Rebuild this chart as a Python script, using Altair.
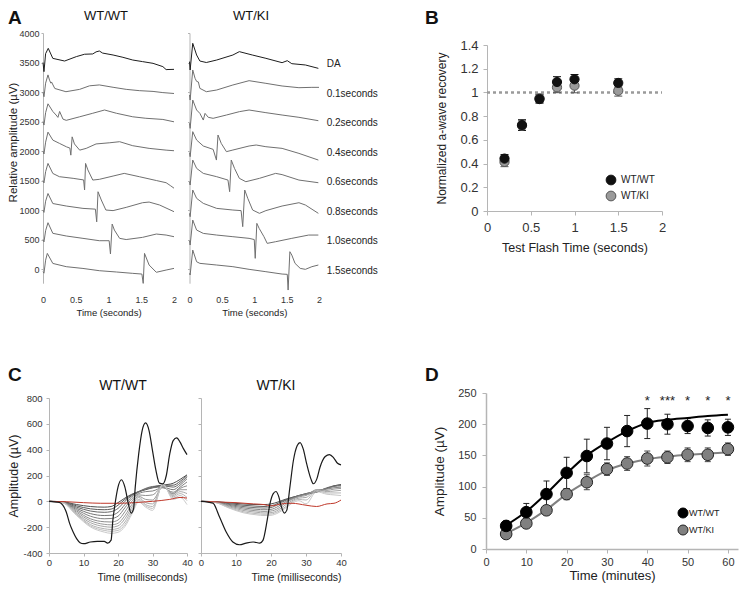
import altair as alt
import pandas as pd

FONT = "Liberation Sans"
W, H = 731, 575
GENO = ["WT/WT", "WT/KI"]

# ---------------- Panel A : offset ERG traces (s, µV relative to trace offset) ----------------
A_LABELS = ["DA", "0.1seconds", "0.2seconds", "0.4seconds", "0.6seconds", "0.8seconds", "1.0seconds", "1.5seconds"]
A_OFFSETS = [3500, 3000, 2500, 2000, 1500, 1000, 500, 0]
A_Y_TICKS = [0, 500, 1000, 1500, 2000, 2500, 3000, 3500, 4000]
A_X_TICKS = [0, 0.5, 1, 1.5, 2]

wt_da_t = [0, 0.015, 0.04, 0.08, 0.15, 0.33, 0.51, 0.635, 0.76, 0.81, 0.86, 0.91, 1.07, 1.22, 1.37, 1.52, 1.68, 1.83, 1.88, 2.0]
wt_da_v = [0, -155, 150, 240, 70, 25, 100, 140, 145, 180, 195, 160, 127, 88, 42, 15, -14, -70, -120, -116]
wt_01_t = [0, 0.015, 0.04, 0.076, 0.1, 0.12, 0.13, 0.18, 0.35, 0.56, 0.71, 0.86, 1.07, 1.27, 1.47, 1.68, 1.83, 2.0]
wt_01_v = [0, -80, 150, 290, 200, 150, 170, 60, 5, 45, 105, 120, 80, 45, 23, 10, -10, -25]
wt_02_t = [0, 0.015, 0.04, 0.076, 0.15, 0.2, 0.228, 0.254, 0.305, 0.355, 0.56, 0.76, 0.94, 1.12, 1.37, 1.57, 1.83, 2.0]
wt_02_v = [0, -60, 150, 300, 170, 110, 70, 170, 40, 20, 80, 140, 195, 140, 80, 55, 35, -5]
wt_04_t = [0, 0.015, 0.04, 0.076, 0.15, 0.25, 0.36, 0.41, 0.425, 0.445, 0.48, 0.56, 0.66, 0.81, 1.02, 1.17, 1.37, 1.62, 1.88, 2.0]
wt_04_v = [0, -50, 150, 320, 185, 130, 70, 50, -70, 240, 120, 15, 45, 120, 140, 158, 90, 45, 15, 5]
wt_06_t = [0, 0.015, 0.04, 0.076, 0.15, 0.25, 0.46, 0.62, 0.635, 0.65, 0.685, 0.76, 0.86, 1.07, 1.24, 1.47, 1.73, 1.88, 1.95, 2.0]
wt_06_v = [0, -40, 150, 290, 120, 65, 37, 10, -160, 290, 180, 8, 20, 76, 121, 65, 0, -37, -90, -130]
wt_08_t = [0, 0.015, 0.04, 0.076, 0.15, 0.355, 0.61, 0.8, 0.82, 0.84, 0.89, 0.96, 1.07, 1.27, 1.52, 1.62, 1.78, 2.0]
wt_08_v = [0, -40, 150, 280, 110, 68, 28, 15, -200, 310, 170, 0, -10, 45, 124, 135, 85, -28]
wt_10_t = [0, 0.015, 0.04, 0.076, 0.15, 0.355, 0.61, 0.86, 1.01, 1.03, 1.056, 1.09, 1.17, 1.27, 1.52, 1.73, 1.88, 2.0]
wt_10_v = [0, -40, 150, 285, 105, 60, 20, -20, -20, -245, 262, 160, 20, 0, 37, 93, 76, 48]
wt_15_t = [0, 0.015, 0.04, 0.066, 0.15, 0.355, 0.61, 0.86, 1.12, 1.37, 1.51, 1.53, 1.55, 1.62, 1.73, 1.88, 2.0]
wt_15_v = [-45, -70, 150, 265, 95, 40, 10, -28, -50, -73, -85, -243, 265, 68, -55, -17, 11]

ki_da_t = [0, 0.01, 0.05, 0.11, 0.16, 0.26, 0.42, 0.67, 0.77, 0.97, 1.18, 1.43, 1.51, 1.58, 1.79, 1.99]
ki_da_v = [15, -127, 325, 127, 25, 0, 42, 127, 184, 127, 71, -3, 31, -20, -42, -99]
ki_01_t = [0, 0.01, 0.05, 0.086, 0.11, 0.137, 0.16, 0.26, 0.42, 0.67, 0.92, 1.18, 1.43, 1.69, 1.89, 2.0]
ki_01_v = [-50, -136, 373, 232, 180, 170, 62, 5, 34, 119, 192, 147, 102, 73, 79, 79]
ki_02_t = [0, 0.01, 0.05, 0.11, 0.16, 0.213, 0.24, 0.29, 0.365, 0.57, 0.77, 0.92, 1.18, 1.43, 1.69, 1.99]
ki_02_v = [-30, -116, 364, 195, 138, 25, 138, 71, 54, 110, 167, 195, 150, 110, 71, 14]
ki_04_t = [0, 0.01, 0.05, 0.11, 0.213, 0.365, 0.416, 0.44, 0.49, 0.57, 0.67, 0.92, 1.03, 1.18, 1.43, 1.69, 1.99]
ki_04_v = [-28, -96, 328, 186, 85, 28, -153, 271, 130, -11, 17, 85, 102, 73, 45, -40, -153]
ki_06_t = [0, 0.01, 0.05, 0.11, 0.213, 0.42, 0.594, 0.62, 0.645, 0.695, 0.77, 0.87, 1.08, 1.33, 1.43, 1.69, 1.99]
ki_06_v = [-20, -76, 347, 206, 121, 65, 8, -189, 347, 206, 37, -20, 37, 121, 100, 8, -37]
ki_08_t = [0, 0.01, 0.05, 0.11, 0.213, 0.42, 0.67, 0.797, 0.822, 0.853, 0.9, 0.975, 1.08, 1.18, 1.43, 1.69, 1.79, 1.99]
ki_08_v = [-56, -113, 339, 198, 113, 28, 0, -10, -282, 339, 198, 0, -56, -10, 68, 124, 85, -56]
ki_10_t = [0, 0.01, 0.05, 0.11, 0.213, 0.42, 0.67, 0.92, 1.0, 1.015, 1.04, 1.076, 1.15, 1.2, 1.33, 1.58, 1.84, 1.99]
ki_10_v = [-20, -93, 330, 161, 104, 76, 48, 20, 0, -319, 274, 189, 48, -65, -37, 20, 76, 76]
ki_15_t = [0, 0.01, 0.05, 0.11, 0.16, 0.42, 0.67, 0.92, 1.18, 1.43, 1.51, 1.523, 1.55, 1.58, 1.63, 1.71, 1.79, 1.89, 1.99]
ki_15_v = [-73, -100, 322, 124, 96, 68, 40, -5, -45, -85, -90, -356, 294, 237, 96, 11, -5, 40, 68]

A_WT = [(wt_da_t, wt_da_v), (wt_01_t, wt_01_v), (wt_02_t, wt_02_v), (wt_04_t, wt_04_v),
        (wt_06_t, wt_06_v), (wt_08_t, wt_08_v), (wt_10_t, wt_10_v), (wt_15_t, wt_15_v)]
A_KI = [(ki_da_t, ki_da_v), (ki_01_t, ki_01_v), (ki_02_t, ki_02_v), (ki_04_t, ki_04_v),
        (ki_06_t, ki_06_v), (ki_08_t, ki_08_v), (ki_10_t, ki_10_v), (ki_15_t, ki_15_v)]

# ---------------- Panel B : normalized a-wave recovery ----------------
B_X = [0.2, 0.4, 0.6, 0.8, 1.0, 1.5]
B_WT = [0.442, 0.725, 0.944, 1.088, 1.111, 1.08]
B_WT_ERR = [0.034, 0.045, 0.035, 0.045, 0.04, 0.035]
B_KI = [0.414, 0.72, 0.95, 1.043, 1.057, 1.014]
B_KI_ERR = [0.04, 0.04, 0.035, 0.045, 0.06, 0.045]
B_REF_X = [0, 2]
B_REF_Y = [1, 1]
B_X_TICKS = [0, 0.5, 1, 1.5, 2]
B_Y_TICKS = [0, 0.2, 0.4, 0.6, 0.8, 1, 1.2, 1.4]

# ---------------- Panel C : a-wave traces (ms, µV) ----------------
C_T = [0, 4, 8, 12, 16, 18, 20, 22, 24, 26, 28, 30, 33, 36, 38, 40]
c_wt_gray = [
    [0, -3, -25, -40, -45, -40, -10, 25, 55, 75, 90, 105, 125, 140, 170, 205],
    [0, -4, -35, -58, -65, -60, -30, 15, 50, 75, 95, 110, 125, 125, 155, 200],
    [0, -5, -45, -75, -85, -80, -55, 0, 45, 75, 100, 115, 120, 110, 140, 190],
    [0, -6, -55, -95, -110, -108, -85, -25, 35, 70, 95, 105, 110, 90, 125, 175],
    [0, -7, -65, -115, -135, -133, -115, -50, 20, 60, 75, 80, 105, 70, 110, 150],
    [0, -8, -75, -135, -158, -160, -145, -80, 0, 50, 45, 50, 110, 60, 100, 120],
    [0, -9, -85, -150, -178, -182, -170, -110, -25, 40, 15, 10, 115, 55, 90, 90],
    [0, -10, -95, -165, -195, -200, -190, -135, -45, 30, -10, -20, 120, 45, 75, 60],
    [0, -10, -100, -180, -212, -218, -210, -160, -65, 15, -25, -40, 125, 35, 60, 30],
    [0, -11, -105, -190, -225, -232, -225, -180, -85, 5, -35, -55, 130, 25, 45, 5],
    [0, -12, -110, -198, -238, -248, -240, -195, -100, -5, -45, -70, 135, 15, 30, -25],
]
c_ki_gray = [
    [0, -2, -12, -20, -25, -25, -20, -5, 15, 30, 45, 55, 70, 100, 120, 130],
    [0, -3, -18, -30, -38, -40, -35, -15, 10, 30, 45, 60, 75, 105, 120, 125],
    [0, -4, -24, -40, -50, -52, -48, -25, 5, 25, 45, 60, 80, 100, 115, 120],
    [0, -5, -30, -50, -62, -65, -62, -40, -5, 20, 40, 55, 85, 95, 105, 110],
    [0, -6, -36, -60, -74, -78, -75, -55, -15, 15, 35, 45, 90, 85, 95, 100],
    [0, -7, -42, -70, -85, -90, -88, -68, -30, 5, 25, 30, 90, 75, 80, 85],
    [0, -8, -48, -80, -96, -100, -98, -80, -45, -5, 15, 10, 85, 65, 65, 65],
    [0, -9, -52, -88, -105, -110, -108, -90, -55, -15, 5, -20, 75, 55, 50, 45],
]
c_wt_black_t = [0, 3, 4, 5, 6, 7, 8, 9, 10, 12, 14, 16, 17, 18, 18.5, 19, 20, 21, 22, 23, 23.8, 24.5, 25, 26,
                27, 28, 29, 30, 31, 32, 33, 34, 35, 36, 37, 38, 39, 40]
c_wt_black_v = [0, -8, -30, -83, -173, -238, -289, -320, -328, -315, -310, -310, -323, -300, -148, -46, 110, 167,
                110, -18, -91, -60, 110, 367, 548, 607, 548, 393, 239, 141, 135, 200, 367, 470, 491, 458, 406, 362]
c_ki_black_t = [0, 3.4, 5.3, 7.2, 9.1, 11, 12.9, 14.9, 16.8, 17.7, 18.9, 19.7, 20.6, 21.4, 22.1, 23, 23.8, 24.5,
                25.4, 26.4, 27.5, 28.3, 29.2, 30.2, 31.4, 32.1, 33.1, 34, 35.5, 36.7, 37.9, 39, 40]
c_ki_black_v = [0, -14, -122, -238, -315, -336, -323, -315, -323, -302, -148, -19, 58, 76, 46, -45, -91, -70,
                110, 316, 432, 455, 406, 290, 174, 136, 174, 264, 347, 362, 337, 295, 282]
c_wt_red_t = [0, 5, 10, 15, 20, 25, 30, 35, 38, 40]
c_wt_red_v = [0, -3, -10, -15, -15, -10, 0, 15, 30, 25]
c_ki_red_t = [0, 5, 10, 15, 18, 20, 23, 26, 30, 33, 36, 38, 40]
c_ki_red_v = [0, -5, -10, -20, -25, -35, -20, -15, -30, -40, -20, -15, 10]
C_Y_TICKS = [-400, -200, 0, 200, 400, 600, 800]
C_X_TICKS = [0, 10, 20, 30, 40]

# ---------------- Panel D : recovery over time ----------------
D_T = [5, 10, 15, 20, 25, 30, 35, 40, 45, 50, 55, 60]
D_WT = [37, 59, 88, 122, 149, 169, 189, 201, 200, 197, 194, 195]
D_WT_ERR = [8, 14, 21, 25, 27, 26, 25, 24, 16, 12, 13, 13]
D_KI = [24, 41, 62, 88, 107, 128, 137, 145, 147, 151, 151, 160]
D_KI_ERR = [6, 6, 7, 9, 12, 10, 11, 12, 10, 11, 11, 10]
D_FIT_WT = [38, 60, 89, 121, 150, 171, 189, 202, 207, 210, 213, 215]
D_FIT_KI = [25, 42, 63, 88, 108, 126, 137, 144, 148, 151, 153, 155]
D_STAR_T = [40, 45, 50, 55, 60]
D_STARS = ["*", "***", "*", "*", "*"]
D_X_TICKS = [0, 10, 20, 30, 40, 50, 60]
D_Y_TICKS = [0, 50, 100, 150, 200, 250]


# ---------------- helpers ----------------
def sc(domain, rng):
    return alt.Scale(domain=domain, range=rng, nice=False, zero=False)


def axis(orient, offset, values, **kw):
    base = dict(orient=orient, offset=offset, values=values, grid=False, labelFlush=False,
                labelOverlap=False, domainColor="#b5b5b5", tickColor="#b5b5b5", labelColor="#333333",
                titleColor="#222222", titleFontWeight="normal", labelFont=FONT, titleFont=FONT)
    base.update(kw)
    return alt.Axis(**base)


def a_frame(traces):
    rows = []
    for lab, off, (ts, vs) in zip(A_LABELS, A_OFFSETS, traces):
        for t, v in zip(ts, vs):
            rows.append({"t": t, "v": v + off, "trace": lab, "kind": "DA" if lab == "DA" else "test"})
    return pd.DataFrame(rows)


def fan_frame(rows_list):
    rows = []
    for i, vals in enumerate(rows_list):
        for t, v in zip(C_T, vals):
            rows.append({"t": t, "v": v, "trace": f"g{i + 1:02d}"})
    return pd.DataFrame(rows)


def errbars(df, xs, ys, color, cap):
    base = alt.Chart(df)
    x = alt.X("x:Q", scale=xs, axis=None)
    rule = base.mark_rule(color=color, strokeWidth=1).encode(
        x=x, y=alt.Y("lo:Q", scale=ys, axis=None), y2="hi:Q")
    lo = base.mark_tick(color=color, orient="horizontal", size=cap, thickness=1, opacity=1).encode(
        x=x, y=alt.Y("lo:Q", scale=ys, axis=None))
    hi = base.mark_tick(color=color, orient="horizontal", size=cap, thickness=1, opacity=1).encode(
        x=x, y=alt.Y("hi:Q", scale=ys, axis=None))
    return [rule, lo, hi]


def text(txt, x, y, size, weight="normal", align="center", baseline="alphabetic", color="#111111"):
    return alt.Chart(pd.DataFrame({"s": [txt]})).mark_text(
        fontSize=size, fontWeight=weight, align=align, baseline=baseline, color=color, font=FONT
    ).encode(x=alt.value(x), y=alt.value(y), text="s:N")


def legend_dot(x, y, fill, stroke, size):
    return alt.Chart(pd.DataFrame({"s": [0]})).mark_circle(
        size=size, fill=fill, stroke=stroke, strokeWidth=1, opacity=1
    ).encode(x=alt.value(x), y=alt.value(y))


layers = []

# ---------------- Panel A ----------------
XA_L = sc([0, 2], [35, 166])
XA_R = sc([0, 2], [181.5, 311])
YA = sc([-240, 4000], [275.2, 25])
A_COLOR = alt.Scale(domain=["DA", "test"], range=["#1e1e1e", "#707070"])
A_XOFF = 275.2 - H


def a_xaxis():
    return axis("bottom", A_XOFF, A_X_TICKS, format="~g", domain=False, ticks=False, labelFontSize=9,
                labelPadding=12, title="Time (seconds)", titleFontSize=9.5, titlePadding=3.5)


layers.append(alt.Chart(a_frame(A_WT)).mark_line(strokeWidth=1).encode(
    x=alt.X("t:Q", scale=XA_L, axis=a_xaxis()),
    y=alt.Y("v:Q", scale=YA, axis=axis("left", -35, A_Y_TICKS, format="d", tickSize=2, labelFontSize=9,
                                       labelPadding=2, title="Relative amplitude (µV)", titleFontSize=11.5,
                                       titlePadding=0, titleY=134)),
    detail="trace:N",
    color=alt.Color("kind:N", scale=A_COLOR, legend=None),
))
layers.append(alt.Chart(a_frame(A_KI)).mark_line(strokeWidth=1).encode(
    x=alt.X("t:Q", scale=XA_R, axis=a_xaxis()),
    y=alt.Y("v:Q", scale=YA, axis=axis("left", -181.5, A_Y_TICKS, labels=False, tickSize=2, title=None)),
    detail="trace:N",
    color=alt.Color("kind:N", scale=A_COLOR, legend=None),
))
layers.append(alt.Chart(pd.DataFrame({"lab": A_LABELS, "off": A_OFFSETS})).mark_text(
    align="left", baseline="middle", fontSize=10, dy=1.5, color="#222222", font=FONT
).encode(x=alt.value(318.7), y=alt.Y("off:Q", scale=YA, axis=None), text="lab:N"))

# ---------------- Panel B ----------------
XB = sc([0, 2], [479, 654])
YB = sc([0, 1.4], [203, 37])
dfb = pd.DataFrame({
    "x": B_X + B_X,
    "y": B_KI + B_WT,
    "err": B_KI_ERR + B_WT_ERR,
    "g": ["WT/KI"] * len(B_X) + ["WT/WT"] * len(B_X),
})
dfb["lo"] = dfb["y"] - dfb["err"]
dfb["hi"] = dfb["y"] + dfb["err"]

layers.append(alt.Chart(pd.DataFrame({"x": B_REF_X, "y": B_REF_Y})).mark_line(
    color="#9a9a9a", strokeWidth=2.5, strokeDash=[3, 3]).encode(
    x=alt.X("x:Q", scale=XB, axis=None), y=alt.Y("y:Q", scale=YB, axis=None)))
layers += errbars(dfb[dfb.g == "WT/KI"], XB, YB, "#555555", 8)
layers += errbars(dfb[dfb.g == "WT/WT"], XB, YB, "#111111", 8)
layers.append(alt.Chart(dfb).mark_circle(size=85, strokeWidth=1, opacity=1).encode(
    x=alt.X("x:Q", scale=XB, axis=axis("bottom", 203 - H, B_X_TICKS, format="~g", tickSize=4, labelFontSize=13,
                                       labelPadding=6, title="Test Flash Time (seconds)", titleFontSize=12.5,
                                       titlePadding=7)),
    y=alt.Y("y:Q", scale=YB, axis=axis("left", -479, B_Y_TICKS, format="~g", tickSize=4, labelFontSize=13,
                                       labelPadding=5, title="Normalized a-wave recovery", titleFontSize=12,
                                       titlePadding=11)),
    fill=alt.Fill("g:N", scale=alt.Scale(domain=GENO, range=["#111111", "#9a9a9a"]), legend=None),
    stroke=alt.Stroke("g:N", scale=alt.Scale(domain=GENO, range=["#111111", "#555555"]), legend=None),
))
# legend of panel B
layers.append(legend_dot(603, 172, "#111111", "#111111", 95))
layers.append(legend_dot(603, 188, "#9a9a9a", "#555555", 95))
layers.append(text("WT/WT", 613, 172, 10, align="left", baseline="middle", color="#222222"))
layers.append(text("WT/KI", 613, 188, 10, align="left", baseline="middle", color="#222222"))

# ---------------- Panel C ----------------
XC_L = sc([0, 40], [41, 179])
XC_R = sc([0, 40], [193, 333])
YC = sc([-400, 800], [545, 390])
WT_FAN_COLORS = ["#4e4e4e", "#5a5a5a", "#676767", "#747474", "#818181", "#8e8e8e", "#9b9b9b", "#a7a7a7",
                 "#b3b3b3", "#bfbfbf", "#cacaca"]
KI_FAN_COLORS = ["#4e4e4e", "#606060", "#727272", "#848484", "#969696", "#a7a7a7", "#b7b7b7", "#c7c7c7"]


def c_xaxis():
    return axis("bottom", 545 - H, C_X_TICKS, tickSize=3, labelFontSize=9.5, labelPadding=1.5,
                title="Time (milliseconds)", titleFontSize=10.5, titlePadding=5, titleAnchor="end")


def c_panel(fan, colors, xs, yaxis, red_t, red_v, blk_t, blk_v):
    dff = fan_frame(fan)
    gray = alt.Chart(dff).mark_line(strokeWidth=1, interpolate="monotone").encode(
        x=alt.X("t:Q", scale=xs, axis=c_xaxis()),
        y=alt.Y("v:Q", scale=YC, axis=yaxis),
        detail="trace:N",
        color=alt.Color("trace:N", scale=alt.Scale(domain=sorted(dff.trace.unique()), range=colors), legend=None),
    )
    red = alt.Chart(pd.DataFrame({"t": red_t, "v": red_v})).mark_line(
        strokeWidth=1, color="#c0392b", interpolate="monotone").encode(
        x=alt.X("t:Q", scale=xs, axis=None), y=alt.Y("v:Q", scale=YC, axis=None))
    blk = alt.Chart(pd.DataFrame({"t": blk_t, "v": blk_v})).mark_line(
        strokeWidth=1.2, color="#1a1a1a", interpolate="monotone").encode(
        x=alt.X("t:Q", scale=xs, axis=None), y=alt.Y("v:Q", scale=YC, axis=None))
    return [gray, red, blk]


c_left_yaxis = axis("left", -41, C_Y_TICKS, labelExpr="'' + datum.value", tickSize=3, labelFontSize=9.5,
                    labelPadding=4, title="Amplitude (µV)", titleFontSize=12.5, titlePadding=2.5)
c_right_yaxis = axis("left", -193, C_Y_TICKS, labels=False, tickSize=3, title=None)
layers += c_panel(c_wt_gray, WT_FAN_COLORS, XC_L, c_left_yaxis, c_wt_red_t, c_wt_red_v, c_wt_black_t, c_wt_black_v)
layers += c_panel(c_ki_gray, KI_FAN_COLORS, XC_R, c_right_yaxis, c_ki_red_t, c_ki_red_v, c_ki_black_t, c_ki_black_v)

# ---------------- Panel D ----------------
XD = sc([0, 62.5], [478, 730])
YD = sc([0, 250], [541, 385])
dfd = pd.DataFrame({
    "x": D_T + D_T,
    "y": D_KI + D_WT,
    "err": D_KI_ERR + D_WT_ERR,
    "g": ["WT/KI"] * len(D_T) + ["WT/WT"] * len(D_T),
})
dfd["lo"] = dfd["y"] - dfd["err"]
dfd["hi"] = dfd["y"] + dfd["err"]
dfit = pd.DataFrame({"x": D_T, "wt": D_FIT_WT, "ki": D_FIT_KI})

layers += errbars(dfd[dfd.g == "WT/KI"], XD, YD, "#444444", 6)
layers.append(alt.Chart(dfit).mark_line(color="#808080", strokeWidth=2, interpolate="monotone").encode(
    x=alt.X("x:Q", scale=XD, axis=None), y=alt.Y("ki:Q", scale=YD, axis=None)))
layers += errbars(dfd[dfd.g == "WT/WT"], XD, YD, "#222222", 6)
layers.append(alt.Chart(dfit).mark_line(color="#000000", strokeWidth=2, interpolate="monotone").encode(
    x=alt.X("x:Q", scale=XD, axis=None), y=alt.Y("wt:Q", scale=YD, axis=None)))
layers.append(alt.Chart(dfd).mark_circle(size=135, strokeWidth=1, opacity=1).encode(
    x=alt.X("x:Q", scale=XD, axis=axis("bottom", 541 - H, D_X_TICKS, tickSize=4, labelFontSize=11,
                                       labelPadding=3.5, title="Time (minutes)", titleFontSize=13,
                                       titlePadding=2, domainWidth=1.5)),
    y=alt.Y("y:Q", scale=YD, axis=axis("left", -478, D_Y_TICKS, tickSize=4, labelFontSize=11, labelPadding=6,
                                       title="Amplitude (µV)", titleFontSize=13.5, titlePadding=11,
                                       domainWidth=1.5)),
    fill=alt.Fill("g:N", scale=alt.Scale(domain=GENO, range=["#000000", "#808080"]), legend=None),
    stroke=alt.Stroke("g:N", scale=alt.Scale(domain=GENO, range=["#000000", "#222222"]), legend=None),
))
layers.append(alt.Chart(pd.DataFrame({"x": D_STAR_T, "s": D_STARS})).mark_text(
    fontSize=13, color="#222222", baseline="middle", font=FONT
).encode(x=alt.X("x:Q", scale=XD, axis=None), y=alt.value(393), text="s:N"))
# legend of panel D
layers.append(legend_dot(675, 505, "#000000", "#000000", 100))
layers.append(legend_dot(675, 522, "#808080", "#222222", 100))
layers.append(text("WT/WT", 681, 505, 9, align="left", baseline="middle", color="#222222"))
layers.append(text("WT/KI", 681, 522, 9, align="left", baseline="middle", color="#222222"))

# ---------------- panel letters and titles ----------------
layers += [
    text("A", 0, 16, 19, "bold", "left"),
    text("B", 417, 16, 19, "bold", "left"),
    text("C", 0, 373, 19, "bold", "left"),
    text("D", 417, 373, 19, "bold", "left"),
    text("WT/WT", 98, 12, 13),
    text("WT/KI", 243, 12, 13),
    text("WT/WT", 115, 382, 14),
    text("WT/KI", 268, 382, 14),
]

chart = alt.layer(*layers).resolve_scale(
    x="independent", y="independent", color="independent", fill="independent", stroke="independent"
).resolve_axis(
    x="independent", y="independent"
).properties(
    width=W, height=H, autosize=alt.AutoSizeParams(type="none"), padding=0
).configure_view(
    stroke="transparent"
).configure_axis(
    grid=False
)

chart.save("out.html", embed_options={"renderer": "svg", "actions": False})
